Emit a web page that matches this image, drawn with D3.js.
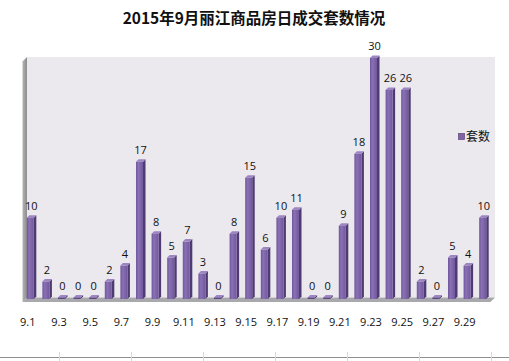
<!DOCTYPE html>
<html><head><meta charset="utf-8">
<script src="https://cdn.jsdelivr.net/npm/d3@7/dist/d3.min.js"></script>
<style>body{margin:0;background:#fff}svg{display:block}</style>
</head><body>
<script>
const title = "2015年9月丽江商品房日成交套数情况";
const seriesName = "套数";
const days = ["9.1","9.2","9.3","9.4","9.5","9.6","9.7","9.8","9.9","9.10","9.11","9.12","9.13","9.14","9.15","9.16","9.17","9.18","9.19","9.20","9.21","9.22","9.23","9.24","9.25","9.26","9.27","9.28","9.29","9.30"];
const values = [10,2,0,0,0,2,4,17,8,5,7,3,0,8,15,6,10,11,0,0,9,18,30,26,26,2,0,5,4,10];
const tickLabels = ["9.1","9.3","9.5","9.7","9.9","9.11","9.13","9.15","9.17","9.19","9.21","9.23","9.25","9.27","9.29"];

const W = 509, H = 361;
const svg = d3.select("body").append("svg").attr("width", W).attr("height", H);
const defs = svg.append("defs");
const g1 = defs.append("linearGradient").attr("id","front").attr("x1","0").attr("x2","1").attr("y1","0").attr("y2","0");
g1.append("stop").attr("offset","0").attr("stop-color","#6f559a");
g1.append("stop").attr("offset","0.35").attr("stop-color","#8a70b4");
g1.append("stop").attr("offset","1").attr("stop-color","#71579c");
const gw = defs.append("linearGradient").attr("id","lwall").attr("x1","0").attr("x2","1");
gw.append("stop").attr("offset","0").attr("stop-color","#b4b4b4");
gw.append("stop").attr("offset","1").attr("stop-color","#8c8c8c");

const wallL = 27, wallR = 495, wallT = 57, base = 297.5, dep = 4.5;
const x = d3.scaleBand().domain(days).range([23.5, 491.5]).paddingInner(0.55).paddingOuter(0.275);
const y = d3.scaleLinear().domain([0, 30]).range([base, 58]);

// walls
svg.append("rect").attr("x", wallL).attr("y", wallT).attr("width", wallR - wallL).attr("height", base - wallT).attr("fill", "#ebe9ee");
svg.append("polygon").attr("points", `${wallL-dep},${wallT+dep} ${wallL},${wallT} ${wallL},${base} ${wallL-dep},${base+dep}`).attr("fill", "url(#lwall)");
svg.append("polygon").attr("points", `${wallL-dep},${base+dep} ${wallL},${base} ${wallR},${base} ${wallR-dep},${base+dep}`).attr("fill", "#a9a9ad");

// bars
const bw = x.bandwidth(), dx = 2.5, dy = 2.5;
const bars = svg.append("g");
days.forEach((d, i) => {
  const v = values[i];
  const x0 = x(d) - 1, yt = y(v), yb = base + 1.5;
  const h = Math.max(yb - yt, 1.2);
  const top = yb - h;
  bars.append("polygon").attr("points", `${x0+bw},${top} ${x0+bw+dx},${top-dy} ${x0+bw+dx},${yb-dy} ${x0+bw},${yb}`).attr("fill", "#4f3b72");
  bars.append("polygon").attr("points", `${x0},${top} ${x0+dx},${top-dy} ${x0+bw+dx},${top-dy} ${x0+bw},${top}`).attr("fill", "#9c86c2");
  bars.append("rect").attr("x", x0).attr("y", top).attr("width", bw).attr("height", h).attr("fill", v === 0 ? "#5e4785" : "url(#front)");
  svg.append("text").attr("x", x0 + bw / 2 + 1).attr("y", yt - 8).attr("text-anchor", "middle")
    .attr("font-family", "Open Sans, Liberation Sans").attr("font-size", 11).attr("fill", "#111").text(v);
});

// x axis labels
const xl = svg.append("g").attr("font-family", "Open Sans, Liberation Sans").attr("font-size", 11).attr("fill", "#111").attr("text-anchor", "middle");
tickLabels.forEach(t => {
  xl.append("text").attr("x", x(t) + bw / 2 - 3.5).attr("y", 326).text(t);
});

// title
svg.append("text").attr("x", 254).attr("y", 24).attr("text-anchor", "middle")
  .attr("font-family", "Noto Sans CJK SC").attr("font-weight", "bold").attr("font-size", 15.5).attr("fill", "#111").text(title);

// legend
svg.append("rect").attr("x", 458.5).attr("y", 133.5).attr("width", 6).attr("height", 6).attr("fill", "#8064a2").attr("stroke", "#5b4580").attr("stroke-width", 0.7);
svg.append("text").attr("x", 466).attr("y", 141).attr("font-family", "Noto Sans CJK SC").attr("font-size", 12).attr("fill", "#111").text(seriesName);

// bottom line with ticks
svg.append("line").attr("x1", 0).attr("x2", W).attr("y1", 357.5).attr("y2", 357.5).attr("stroke", "#8f8f8f").attr("stroke-width", 1);
d3.range(59, W, 72).forEach(tx => {
  svg.append("line").attr("x1", tx + 0.5).attr("x2", tx + 0.5).attr("y1", 352).attr("y2", 361).attr("stroke", "#d8d8d8");
});
</script>
</body></html>
